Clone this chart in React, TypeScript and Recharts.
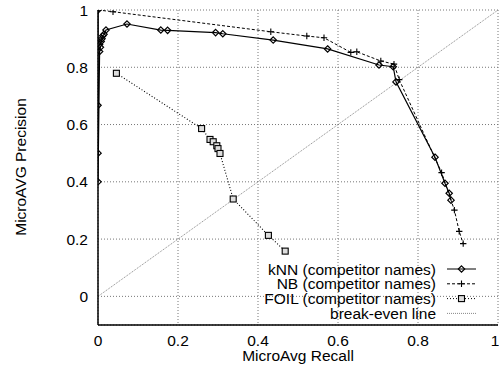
import React from 'react';
import { LineChart, Line, XAxis, YAxis, CartesianGrid } from 'recharts';

const knnRecall = [0, 0, 0, 0, 0.004, 0.006, 0.004, 0.008, 0.01, 0.012, 0.015, 0.02, 0.0725, 0.157, 0.174, 0.294, 0.312, 0.438, 0.574, 0.7025, 0.738, 0.745, 0.8425, 0.8675, 0.878, 0.8825];
const knnPrecision = [1, 0.667, 0.5, 0.4, 0.855, 0.87, 0.88, 0.89, 0.9, 0.91, 0.915, 0.93, 0.951, 0.93, 0.929, 0.921, 0.917, 0.895, 0.864, 0.808, 0.802, 0.749, 0.486, 0.395, 0.36, 0.336];

const nbRecall = [0, 0.0375, 0.432, 0.522, 0.565, 0.632, 0.647, 0.707, 0.74, 0.753, 0.859, 0.891, 0.903, 0.913];
const nbPrecision = [1, 0.994, 0.924, 0.909, 0.903, 0.852, 0.854, 0.822, 0.811, 0.757, 0.432, 0.301, 0.227, 0.184];

const foilRecall = [0.046, 0.259, 0.28, 0.288, 0.297, 0.3, 0.305, 0.338, 0.426, 0.468];
const foilPrecision = [0.779, 0.586, 0.548, 0.54, 0.526, 0.516, 0.499, 0.34, 0.213, 0.158];

const breakEvenRecall = [0, 1];
const breakEvenPrecision = [0, 1];

const xTicks = [0, 0.2, 0.4, 0.6, 0.8, 1];
const yTicks = [0, 0.2, 0.4, 0.6, 0.8, 1];

const seriesNames = ['kNN (competitor names)', 'NB (competitor names)', 'FOIL (competitor names)', 'break-even line'];

const zip = (xs: number[], ys: number[]) => xs.map((x, i) => ({ x, y: ys[i] }));
const knnData = zip(knnRecall, knnPrecision);
const nbData = zip(nbRecall, nbPrecision);
const foilData = zip(foilRecall, foilPrecision);
const beData = zip(breakEvenRecall, breakEvenPrecision);

const FONT = '"Liberation Sans", Arial, Helvetica, sans-serif';
const FS = 15.5;

const Diamond = (p: any) => {
  const { cx, cy } = p;
  if (cx == null || cy == null) return <g key={p.key} />;
  const s = 3.2;
  return <path key={p.key} d={`M${cx},${cy - s}L${cx + s},${cy}L${cx},${cy + s}L${cx - s},${cy}Z`} fill="none" stroke="#000" strokeWidth={1.2} />;
};
const Plus = (p: any) => {
  const { cx, cy } = p;
  if (cx == null || cy == null) return <g key={p.key} />;
  const s = 3.2;
  return <path key={p.key} d={`M${cx - s},${cy}H${cx + s}M${cx},${cy - s}V${cy + s}`} stroke="#000" strokeWidth={1.1} fill="none" />;
};
const Square = (p: any) => {
  const { cx, cy } = p;
  if (cx == null || cy == null) return <g key={p.key} />;
  const s = 3;
  return <rect key={p.key} x={cx - s} y={cy - s} width={2 * s} height={2 * s} fill="#ddd" stroke="#000" strokeWidth={1.1} />;
};

const legendRows = [
  { name: seriesNames[0], dash: undefined as string | undefined, color: '#000', marker: 'diamond' },
  { name: seriesNames[1], dash: '3 2', color: '#000', marker: 'plus' },
  { name: seriesNames[2], dash: '1 2', color: '#000', marker: 'square' },
  { name: seriesNames[3], dash: '1 1', color: '#888', marker: 'none' },
];

export default function App() {
  return (
    <div style={{ position: 'absolute', left: 0, top: 0, width: 499, height: 372, background: '#fff' }}>
      <LineChart
        width={499}
        height={372}
        margin={{ top: 10, right: 1, bottom: 0, left: 38 }}
        style={{ fontFamily: FONT }}
      >
        <CartesianGrid stroke="#777" strokeDasharray="1 2" xAxisId="b" yAxisId="l" />
        <XAxis
          xAxisId="b"
          type="number"
          dataKey="x"
          domain={[0, 1]}
          ticks={xTicks}
          tickFormatter={(v: number) => String(v)}
          allowDataOverflow
          height={47}
          tickSize={0}
          tickMargin={10}
          tickLine={false}
          axisLine={{ stroke: '#000', strokeWidth: 1.5 }}
          tick={{ fill: '#000', fontSize: FS, fontFamily: FONT }}
          label={{ value: 'MicroAvg Recall', position: 'insideBottom', offset: 11, fill: '#000', fontSize: FS, fontFamily: FONT }}
        />
        <XAxis xAxisId="t" orientation="top" type="number" dataKey="x" domain={[0, 1]} ticks={xTicks} height={0} tick={false} tickLine={false} axisLine={{ stroke: '#000', strokeWidth: 1.5 }} />
        <YAxis
          yAxisId="l"
          type="number"
          dataKey="y"
          domain={[-0.1, 1]}
          ticks={yTicks}
          tickFormatter={(v: number) => String(v)}
          allowDataOverflow
          width={60}
          tickSize={0}
          tickMargin={10}
          tickLine={false}
          axisLine={{ stroke: '#000', strokeWidth: 1.5 }}
          tick={{ fill: '#000', fontSize: FS, fontFamily: FONT }}
          label={() => (
            <text x={20} y={167} transform="rotate(-90 20 167)" textAnchor="middle" dominantBaseline="central" fill="#000" fontSize={FS} fontFamily={FONT}>
              MicroAVG Precision
            </text>
          )}
        />
        <YAxis yAxisId="r" orientation="right" type="number" dataKey="y" domain={[-0.1, 1]} ticks={yTicks} width={0} tick={false} tickLine={false} axisLine={{ stroke: '#000', strokeWidth: 1.5 }} />
        <Line xAxisId="b" yAxisId="l" data={beData} dataKey="y" stroke="#888" strokeWidth={1} strokeDasharray="1 1" dot={false} isAnimationActive={false} />
        <Line xAxisId="b" yAxisId="l" data={foilData} dataKey="y" stroke="#000" strokeWidth={1.1} strokeDasharray="1 2" dot={Square} isAnimationActive={false} />
        <Line xAxisId="b" yAxisId="l" data={nbData} dataKey="y" stroke="#000" strokeWidth={1} strokeDasharray="3 2" dot={Plus} isAnimationActive={false} />
        <Line xAxisId="b" yAxisId="l" data={knnData} dataKey="y" stroke="#000" strokeWidth={1.2} dot={Diamond} isAnimationActive={false} />
      </LineChart>
      <svg width={499} height={372} style={{ position: 'absolute', left: 0, top: 0, pointerEvents: 'none' }}>
        {legendRows.map((r, i) => {
          const y = 269 + i * 14.8;
          const cx = 461.5;
          return (
            <g key={r.name}>
              <text x={436} y={y} textAnchor="end" dominantBaseline="central" fontSize={FS} fontFamily={FONT} fill="#000">{r.name}</text>
              <line x1={447} x2={476} y1={y} y2={y} stroke={r.color} strokeWidth={1} strokeDasharray={r.dash} />
              {r.marker === 'diamond' && <Diamond cx={cx} cy={y} />}
              {r.marker === 'plus' && <Plus cx={cx} cy={y} />}
              {r.marker === 'square' && <Square cx={cx} cy={y} />}
            </g>
          );
        })}
      </svg>
    </div>
  );
}
